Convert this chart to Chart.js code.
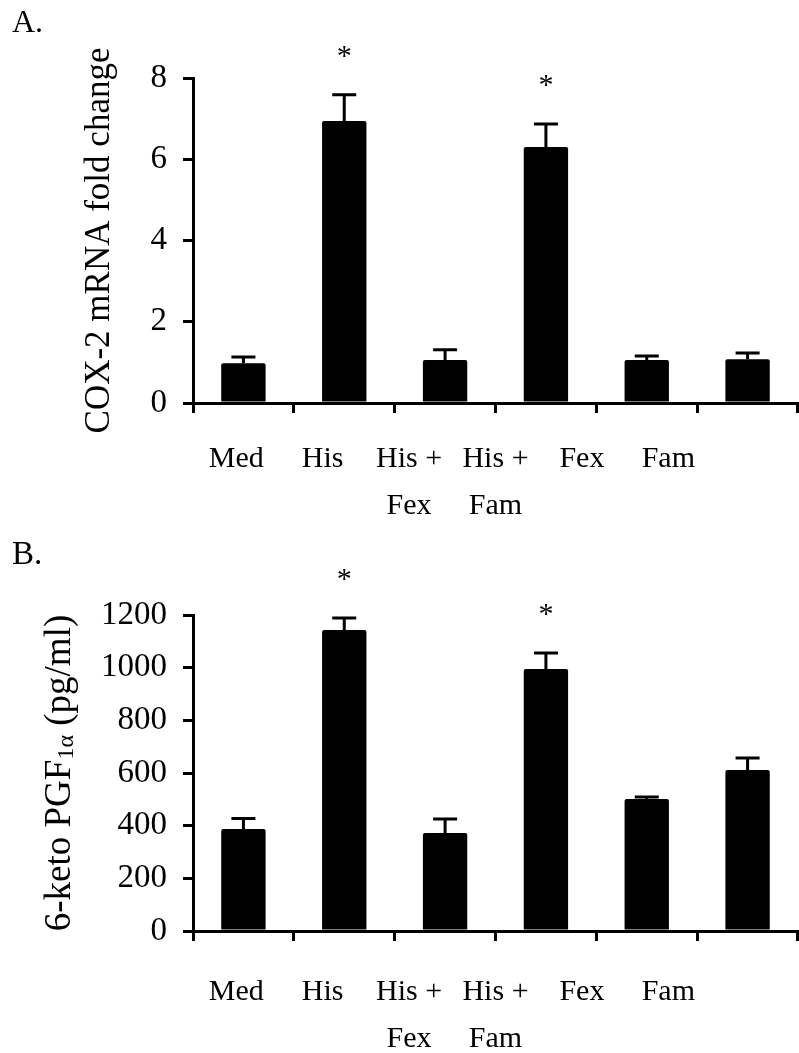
<!DOCTYPE html>
<html>
<head>
<meta charset="utf-8">
<script src="https://cdn.jsdelivr.net/npm/chart.js"></script>
<style>
  body { margin: 0; background: #fff; }
  canvas { position: absolute; left: 0; }
  #chartA { top: 0; }
  #chartB { top: 520px; }
</style>
</head>
<body>
<canvas id="chartA" width="799" height="520"></canvas>
<canvas id="chartB" width="799" height="533"></canvas>
<script>
const categories = [['Med'], ['His'], ['His +', 'Fex'], ['His +', 'Fam'], ['Fex'], ['Fam']];
const cox2Values = [0.98, 6.94, 1.06, 6.3, 1.06, 1.08];
const cox2Errors = [0.15, 0.65, 0.25, 0.57, 0.1, 0.15];
const pgfValues = [387, 1143, 372, 995, 501, 611];
const pgfErrors = [40, 46, 53, 61, 8, 46];
const significant = [false, true, false, true, false, false];
const cox2Ticks = { min: 0, max: 8, step: 2 };
const pgfTicks = { min: 0, max: 1200, step: 200 };

const SERIF = '"Liberation Serif", "Times New Roman", serif';

// upper error bars + asterisks, drawn from the scales
const errorBars = {
  id: 'errorBars',
  afterDatasetsDraw(chart, args, opts) {
    const ctx = chart.ctx;
    const yScale = chart.scales.y;
    const bars = chart.getDatasetMeta(0).data;
    ctx.save();
    ctx.strokeStyle = '#000';
    ctx.fillStyle = '#000';
    ctx.lineWidth = 3;
    bars.forEach((bar, i) => {
      const top = yScale.getPixelForValue(opts.values[i] + opts.errors[i]);
      ctx.beginPath();
      ctx.moveTo(bar.x, bar.y);
      ctx.lineTo(bar.x, top);
      ctx.moveTo(bar.x - 12, top);
      ctx.lineTo(bar.x + 12, top);
      ctx.stroke();
      if (significant[i]) {
        ctx.font = '30px ' + SERIF;
        ctx.textAlign = 'center';
        ctx.textBaseline = 'middle';
        ctx.fillText('*', bar.x, top - 38);
      }
    });
    ctx.restore();
  }
};

// y title with the small "1α"
const pgfTitle = {
  id: 'pgfTitle',
  afterDraw(chart) {
    const ctx = chart.ctx;
    const area = chart.chartArea;
    const parts = [['6-keto PGF', 37, 0], ['1α', 24, 3], [' (pg/ml)', 37, 0]];
    ctx.save();
    ctx.translate(70, (area.top + area.bottom) / 2);
    ctx.rotate(-Math.PI / 2);
    ctx.fillStyle = '#000';
    ctx.textBaseline = 'alphabetic';
    ctx.textAlign = 'left';
    let total = 0;
    parts.forEach(p => { ctx.font = p[1] + 'px ' + SERIF; total += ctx.measureText(p[0]).width; });
    let x = -total / 2;
    parts.forEach(p => {
      ctx.font = p[1] + 'px ' + SERIF;
      ctx.fillText(p[0], x, p[2]);
      x += ctx.measureText(p[0]).width;
    });
    ctx.restore();
  }
};

function makeChart(id, values, errors, ticks, opt) {
  return new Chart(document.getElementById(id), {
    type: 'bar',
    data: {
      labels: categories.map(c => c.join(' ')),
      datasets: [{
        data: values,
        backgroundColor: '#000',
        borderWidth: 0,
        borderRadius: 2,
        borderSkipped: 'bottom',
        categoryPercentage: 1,
        barPercentage: 0.44
      }]
    },
    options: {
      responsive: false,
      animation: false,
      devicePixelRatio: 1,
      layout: { padding: { left: 12, right: 1, top: 0, bottom: 0 } },
      plugins: {
        legend: { display: false },
        tooltip: { enabled: false },
        title: {
          display: true,
          text: opt.panel,
          align: 'start',
          color: '#000',
          font: { family: SERIF, size: opt.panelSize, weight: 'normal', lineHeight: 1.2 },
          padding: { top: opt.panelTop, bottom: opt.panelBottom }
        },
        errorBars: { values: values, errors: errors }
      },
      scales: {
        x: {
          offset: true,
          ticks: { display: false },
          grid: { offset: true, drawOnChartArea: false, color: '#000', lineWidth: 3, tickLength: 10 },
          border: { color: '#000', width: 3 },
          afterFit: s => { s.height = 10; }
        },
        xl: {
          type: 'category',
          position: 'bottom',
          weight: 1,
          labels: categories.concat([['']]),
          offset: true,
          grid: { display: false, drawTicks: false },
          border: { display: false },
          ticks: {
            color: '#000',
            maxRotation: 0,
            autoSkip: false,
            padding: opt.labelPad,
            font: { family: SERIF, size: 30, lineHeight: 1.55 }
          },
          afterFit: s => { s.height = opt.labelHeight; }
        },
        y: {
          min: ticks.min,
          max: ticks.max,
          ticks: {
            stepSize: ticks.step,
            color: '#000',
            padding: 16,
            font: { family: SERIF, size: 33 },
            callback: v => String(v)
          },
          grid: { drawOnChartArea: false, color: '#000', lineWidth: 3, tickLength: 10 },
          border: { color: '#000', width: 3 },
          title: opt.yTitle ? {
            display: true,
            text: opt.yTitle,
            color: '#000',
            font: { family: SERIF, size: 35, lineHeight: 1.2 },
            padding: { top: 67, bottom: 0 }
          } : { display: false },
          afterFit: s => { s.width = 181; }
        }
      }
    },
    plugins: opt.extra
  });
}

makeChart('chartA', cox2Values, cox2Errors, cox2Ticks, {
  panel: 'A.', panelSize: 32, panelTop: 4, panelBottom: 35.6,
  labelPad: 23, labelHeight: 107,
  yTitle: 'COX-2 mRNA fold change',
  extra: [errorBars]
});

makeChart('chartB', pgfValues, pgfErrors, pgfTicks, {
  panel: 'B.', panelSize: 33, panelTop: 16, panelBottom: 39.4,
  labelPad: 28, labelHeight: 112,
  yTitle: null,
  extra: [errorBars, pgfTitle]
});
</script>
</body>
</html>
